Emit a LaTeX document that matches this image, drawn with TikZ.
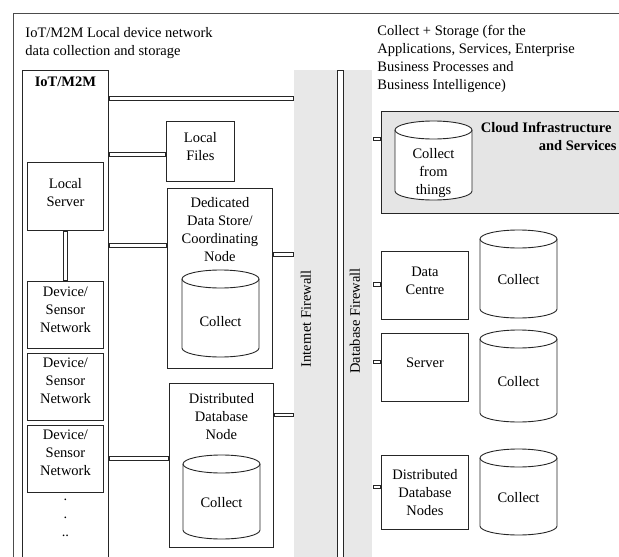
\documentclass[tikz,border=0pt]{standalone}
\usepackage{fontspec}
\setmainfont{Liberation Serif}
\usetikzlibrary{positioning}

\begin{document}
\begin{tikzpicture}[
  x=1pt, y=-1pt,
  font=\fontsize{14.5}{18}\selectfont,
  line width=0.9pt,
  box/.style={draw=black!85, inner sep=0pt, align=center},
  inlabel/.style={anchor=north, align=center, inner sep=0pt},
  db/.style={minimum width=78pt, inner sep=0pt, path picture={
    \filldraw[draw=black!85, fill=white]
      ([xshift=0.5pt, yshift=-9.5pt]path picture bounding box.north west)
      -- ([xshift=0.5pt, yshift=9.5pt]path picture bounding box.south west)
      arc[start angle=180, end angle=360, x radius=38.5pt, y radius=9pt]
      -- ([xshift=-0.5pt, yshift=-9.5pt]path picture bounding box.north east)
      arc[start angle=0, end angle=180, x radius=38.5pt, y radius=9pt] -- cycle;
    \draw[draw=black!85]
      ([xshift=0.5pt, yshift=-9.5pt]path picture bounding box.north west)
      arc[start angle=180, end angle=360, x radius=38.5pt, y radius=9pt];
  }},
  dbtext/.style={align=center, inner sep=0pt, yshift=-6pt},
  pipe/.style={draw=black!85, double=white, double distance=2.5pt, line cap=rect, shorten <=2.15pt, shorten >=2.15pt},
  wall/.style={fill=gray!18, inner sep=0pt},
  title/.style={anchor=north west, align=left, inner sep=0pt}
]
\useasboundingbox (0,0) rectangle (619,557);
% outer frame and titles
\draw[black!70] (13,13) rectangle (650,600);
\node[title] (ttl) at (25,27) {IoT/M2M Local device network\\data collection and storage};
\node[title] (ttr) at (377,25) {Collect + Storage (for the\\Applications, Services, Enterprise\\Business Processes and\\Business Intelligence)};

% firewalls
\node[wall, anchor=north west, minimum width=78pt, minimum height=520pt] (fw) at (294,70) {};
\node[rotate=90, inner sep=0pt] (ifw) at (306,319) {Internet Firewall};
\node[rotate=90, inner sep=0pt] (dfw) at (355,321) {Database Firewall};
\draw[pipe, double distance=5pt, shorten <=3.4pt] ([xshift=46.5pt]fw.north west) -- ([xshift=46.5pt]fw.south west);

% local side
\node[box, anchor=north west, minimum width=86pt, minimum height=520pt,
  label={[inlabel, label distance=-6pt]north:\textbf{IoT/M2M}}] (iot) at (22,70) {};
\node[box, anchor=north west, minimum width=76pt, minimum height=68pt,
  label={[inlabel, label distance=-16pt]north:Local\\Server}] (ls) at (27,162) {};
\node[box, anchor=north west, minimum width=76pt, minimum height=67pt,
  label={[inlabel, label distance=-5pt]north:Device/\\Sensor\\Network}] (d1) at (27,281) {};
\node[box, below=4pt of d1, minimum width=76pt, minimum height=67pt,
  label={[inlabel, label distance=-5pt]north:Device/\\Sensor\\Network}] (d2) {};
\node[box, below=4pt of d2, minimum width=76pt, minimum height=67pt,
  label={[inlabel, label distance=-5pt]north:Device/\\Sensor\\Network}] (d3) {};
\node[below=5.5pt of d3, align=center, inner sep=0pt] (dots) {.\\.\\..};

\node[box, anchor=north west, minimum width=68pt, minimum height=60pt,
  label={[inlabel, label distance=-10.7pt]north:Local\\Files}] (lf) at (166,121) {};
\node[box, anchor=north west, minimum width=105pt, minimum height=180pt,
  label={[inlabel, label distance=-8.5pt]north:Dedicated\\Data Store/\\Coordinating\\Node}] (dds) at (167,188) {};
\node[db, minimum height=88pt, label={[dbtext, yshift=-2pt]center:Collect}] (c1) at (220.5,313.5) {};
\node[box, anchor=north west, minimum width=104pt, minimum height=164pt,
  label={[inlabel, label distance=-9.7pt]north:Distributed\\Database\\Node}] (ddn) at (169,383) {};
\node[db, minimum height=85pt, label={[dbtext]center:Collect}] (c2) at (221.5,497) {};

\draw[pipe] ([yshift=-28.5pt]iot.north east) coordinate (q) -- (q -| fw.west);
\draw[pipe] ([yshift=-3pt]lf.west) coordinate (q) -- (q -| iot.east);
\draw[pipe] ([yshift=-57.5pt]dds.north west) coordinate (q) -- (q -| iot.east);
\draw[pipe] ([yshift=-66.5pt]dds.north east) coordinate (q) -- (q -| fw.west);
\draw[pipe] ([yshift=-75.5pt]ddn.north west) coordinate (q) -- (q -| iot.east);
\draw[pipe] ([yshift=-32pt]ddn.north east) coordinate (q) -- (q -| fw.west);
\draw[pipe] (ls) -- (d1);

% cloud side
\node[box, fill=gray!20, anchor=north west, minimum width=250pt, minimum height=102pt] (cloud) at (381,111) {};
\node[anchor=north east, align=right, inner sep=0pt] (cloudt) at (617,121.5) {\textbf{Cloud Infrastructure}\kern5pt\\\textbf{and Services}};
\node[db, minimum height=80pt, label={[dbtext, yshift=-6.5pt]center:Collect\\from\\things}] (c3) at (433.5,160.5) {};

\node[box, anchor=north west, minimum width=87pt, minimum height=68pt,
  label={[inlabel, label distance=-15.7pt]north:Data\\Centre}] (dc) at (381,251) {};
\node[db, minimum height=89pt, label={[dbtext]center:Collect}] (c4) at (518.5,274) {};
\node[box, anchor=north west, minimum width=87pt, minimum height=68pt,
  label={[inlabel, label distance=-24.3pt]north:Server}] (srv) at (381,333) {};
\node[db, minimum height=93pt, label={[dbtext]center:Collect}] (c5) at (518.5,376) {};
\node[box, anchor=north west, minimum width=87pt, minimum height=74pt,
  label={[inlabel, label distance=-14.3pt]north:Distributed\\Database\\Nodes}] (dbn) at (381,455) {};
\node[db, minimum height=87pt, label={[dbtext]center:Collect}] (c6) at (518.5,492) {};

\draw[pipe] ([yshift=23.5pt]cloud.west) coordinate (q) -- (q -| fw.east);
\draw[pipe] ([yshift=1pt]dc.west) coordinate (q) -- (q -| fw.east);
\draw[pipe] ([yshift=5.5pt]srv.west) coordinate (q) -- (q -| fw.east);
\draw[pipe] ([yshift=5.5pt]dbn.west) coordinate (q) -- (q -| fw.east);
\end{tikzpicture}
\end{document}
